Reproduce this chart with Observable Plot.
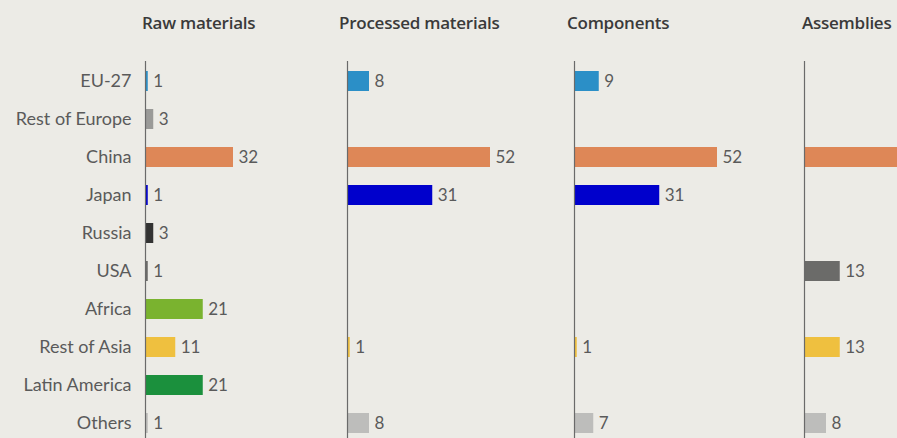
<!DOCTYPE html>
<html>
<head>
<meta charset="utf-8">
<script src="https://cdn.jsdelivr.net/npm/d3@7"></script>
<script src="https://cdn.jsdelivr.net/npm/@observablehq/plot@0.6"></script>
<style>
  html, body { margin: 0; padding: 0; background: #ecebe6; }
  #chart { position: relative; width: 897px; height: 438px; overflow: hidden; background: #ecebe6; font-family: Lato, "Open Sans", sans-serif; }
  .panel { position: absolute; top: 0; }
  .panel svg { max-width: none !important; }
  .ptitle { position: absolute; top: 11px; font-family: "Open Sans", sans-serif; font-size: 17px; font-weight: 600; color: #3a3a3a; letter-spacing: -0.25px; white-space: nowrap; }
</style>
</head>
<body>
<div id="chart"></div>
<script>
const regions = ["EU-27", "Rest of Europe", "China", "Japan", "Russia", "USA", "Africa", "Rest of Asia", "Latin America", "Others"];
const regionColors = ["#2b8fc7", "#9a9a98", "#de8757", "#0000cc", "#333333", "#6b6b69", "#7ab32f", "#efc03f", "#1b903d", "#bdbdbb"];
const stages = ["Raw materials", "Processed materials", "Components", "Assemblies"];
const rawMaterials = [1, 3, 32, 1, 3, 1, 21, 11, 21, 1];
const processedMaterials = [8, null, 52, 31, null, null, null, 1, null, 8];
const components = [9, null, 52, 31, null, null, null, 1, null, 7];
const assemblies = [null, null, 66, null, null, 13, null, 13, null, 8];
// labels that fall outside the visible area in the original crop
const hiddenLabels = {"Assemblies": ["China"]};

const seriesByStage = [rawMaterials, processedMaterials, components, assemblies];
const panelLeft = [145, 347, 574, 804];
const titleLeft = [142, 339, 567, 802];

const chart = document.getElementById("chart");

stages.forEach((stage, si) => {
  const rows = regions.map((r, i) => ({region: r, value: seriesByStage[si][i], color: regionColors[i]}))
    .filter(d => d.value != null);
  const hidden = hiddenLabels[stage] || [];
  const first = si === 0;
  const ml = first ? 145 : 1;
  const plot = Plot.plot({
    width: ml + 240,
    height: 443,
    marginTop: 61,
    marginBottom: 0,
    marginLeft: ml,
    marginRight: 0,
    style: {background: "transparent", fontFamily: "Lato, 'Open Sans', sans-serif", overflow: "visible"},
    x: {domain: [0, 240 / 2.75], axis: null},
    y: {domain: regions, paddingInner: 0.48, paddingOuter: 0.24, axis: first ? "left" : null, tickSize: 0, tickPadding: 14, label: null},
    marks: [
      Plot.barX(rows, {x: "value", y: "region", fill: "color"}),
      Plot.ruleX([0], {stroke: "#6a6a6a", strokeWidth: 1.2}),
      Plot.text(rows.filter(d => !hidden.includes(d.region)), {x: "value", y: "region", text: d => String(d.value), dx: 5, textAnchor: "start", fill: "#5a5a5a", fontSize: 17})
    ]
  });
  if (first) {
    const g = plot.querySelector("g[aria-label='y-axis tick label']");
    if (g) { g.setAttribute("font-size", "18"); g.setAttribute("fill", "#5a5a5a"); }
  }
  const wrap = document.createElement("div");
  wrap.className = "panel";
  wrap.style.left = (panelLeft[si] - ml) + "px";
  wrap.style.width = (ml + 240) + "px";
  wrap.appendChild(plot);
  chart.appendChild(wrap);
  const t = document.createElement("div");
  t.className = "ptitle";
  t.style.left = titleLeft[si] + "px";
  t.textContent = stage;
  chart.appendChild(t);
});
</script>
</body>
</html>
